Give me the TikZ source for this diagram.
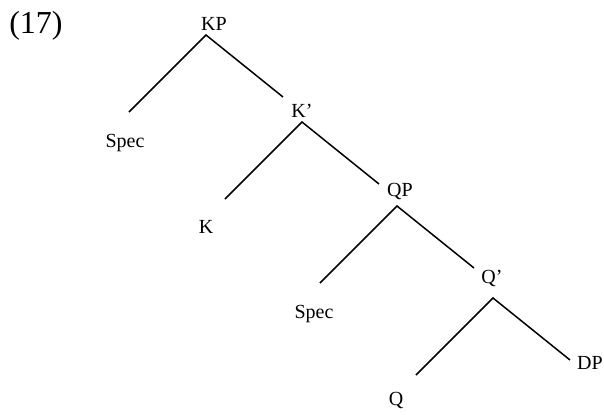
\documentclass[tikz,border=0pt]{standalone}
\usepackage{fontspec}
\setmainfont{Liberation Serif}
\tikzset{
  lbl/.style={anchor=base, inner sep=0pt, font=\fontsize{10}{12}\selectfont},
  branch/.style={line width=0.75pt},
}
\begin{document}
\begin{tikzpicture}[x=0.5pt, y=-0.5pt]
  \useasboundingbox (0,0) rectangle (604,414);
  \node[anchor=base, inner sep=0pt, font=\fontsize{16}{19}\selectfont] (ex) at (36,33) {(17)};
  % labels
  \node[lbl] (kp) at (214,30) {KP};
  \node[lbl] (spec1) at (125,147) {Spec};
  \node[lbl] (kbar) at (302,117) {K’};
  \node[lbl] (k) at (206,233) {K};
  \node[lbl] (qp) at (400,196) {QP};
  \node[lbl] (spec2) at (314,318) {Spec};
  \node[lbl] (qbar) at (492,283) {Q’};
  \node[lbl] (q) at (396,405) {Q};
  \node[lbl] (dp) at (590,369) {DP};
  % branches
  \foreach \n/\ax/\ay in {kp/206/35, kbar/302/122, qp/397/206, qbar/493/298} {
    \coordinate (\n-a) at (\ax,\ay);
    \coordinate (\n-l) at ([shift={(-77,77)}]\n-a);
    \coordinate (\n-r) at ([shift={(77,62)}]\n-a);
    \draw[branch] (\n-l) -- (\n-a) -- (\n-r);
  }
\end{tikzpicture}
\end{document}
